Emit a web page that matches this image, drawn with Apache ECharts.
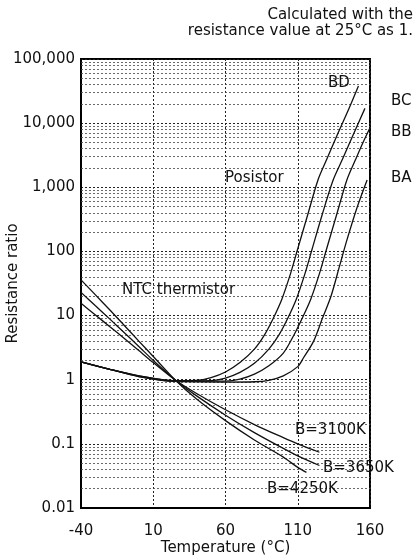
<!DOCTYPE html>
<html>
<head>
<meta charset="utf-8">
<script src="https://cdn.jsdelivr.net/npm/echarts@6/dist/echarts.min.js"></script>
<style>
html,body{margin:0;padding:0;background:#fff;}
#c{width:416px;height:558px;}
</style>
</head>
<body>
<div id="c"></div>
<script>
// ---- data ----
const xTicks = [-40, 10, 60, 110, 160];
const yTicks = [0.01, 0.1, 1, 10, 100, 1000, 10000, 100000];
const minorSteps = [2, 3, 4, 5, 6, 7, 8, 9];

// NTC thermistors
const ntc3100T = [-40, -30, -20, -10, 0, 10, 25, 40, 60, 80, 100, 110, 125];
const ntc3100R = [15.5, 10.2, 6.7, 4.4, 2.85, 1.85, 1, 0.61, 0.34, 0.2, 0.125, 0.1, 0.074];
const ntc3650T = [-40, -30, -20, -10, 0, 10, 25, 40, 60, 80, 100, 110, 125];
const ntc3650R = [23, 14.2, 8.8, 5.4, 3.3, 2.0, 1, 0.56, 0.28, 0.15, 0.085, 0.065, 0.046];
const ntc4250T = [-40, -30, -20, -10, 0, 10, 25, 40, 60, 80, 100, 110, 116];
const ntc4250R = [36, 21, 12.2, 7.0, 4.0, 2.3, 1, 0.5, 0.23, 0.115, 0.062, 0.043, 0.036];

// Posistors
const bdT = [-40, -20, 0, 25, 40, 50, 60, 70, 80, 87, 93, 99, 105, 110, 117, 124, 130, 137, 145, 152];
const bdR = [1.9, 1.45, 1.15, 0.97, 0.98, 1.08, 1.32, 1.85, 3.0, 5.0, 9, 18, 45, 110, 380, 1300, 2700, 6300, 16000, 38000];
const bcT = [-40, -20, 0, 25, 50, 60, 70, 80, 90, 97, 103, 109, 115, 120, 127, 134.5, 141, 148, 156.5];
const bcR = [1.9, 1.45, 1.15, 0.96, 0.97, 1.06, 1.3, 1.8, 3.0, 5.0, 9, 18, 45, 110, 380, 1300, 2750, 6300, 17000];
const bbT = [-40, -20, 0, 25, 60, 70, 80, 90, 100, 107, 113, 119, 125, 130, 137, 144, 150, 155, 160];
const bbR = [1.9, 1.45, 1.12, 0.95, 0.95, 1.02, 1.22, 1.65, 2.6, 4.8, 9, 18, 45, 110, 380, 1300, 2700, 4900, 8500];
const baT = [-40, -20, 0, 25, 60, 80, 90, 100, 110, 114, 121, 127, 133, 139, 144, 151, 158];
const baR = [1.9, 1.45, 1.12, 0.94, 0.92, 0.93, 0.98, 1.15, 1.6, 2.2, 4.0, 9, 20, 60, 150, 480, 1300];

// ---- chart ----
const pairs = (t, r) => t.map((v, i) => [v, r[i]]);
const FONT = '"DejaVu Sans", "Liberation Sans", sans-serif';
const FS = 15;

const minorLines = [];
yTicks.slice(0, -1).forEach(d => minorSteps.forEach(m => minorLines.push({ yAxis: Number((d * m).toPrecision(6)) })));

const curve = (name, t, r) => ({
  name, type: 'line', data: pairs(t, r), showSymbol: false, smooth: 0.3,
  lineStyle: { color: '#111', width: 1.3 }, z: 5, silent: true
});

const label = (text, x, y, align) => ({
  type: 'text', x, y, z: 10, silent: true,
  style: { text, font: FS + 'px ' + FONT, fill: '#111', align: align || 'left', verticalAlign: 'middle' }
});

const chart = echarts.init(document.getElementById('c'), null, { renderer: 'canvas' });
chart.setOption({
  animation: false,
  backgroundColor: '#fff',
  textStyle: { fontFamily: FONT },
  grid: { left: 81, right: 46, top: 59, bottom: 50, show: true, borderColor: '#000', borderWidth: 2,
    backgroundColor: 'transparent', containLabel: false, outerBoundsMode: 'none' },
  xAxis: {
    type: 'value', min: xTicks[0], max: xTicks[xTicks.length - 1], interval: 50,
    axisLine: { show: true, onZero: false, lineStyle: { color: '#000', width: 2 } },
    axisTick: { show: false },
    axisLabel: { color: '#111', fontSize: FS, margin: 16, fontFamily: FONT },
    splitLine: { show: true, lineStyle: { color: '#222', type: [2, 2], width: 1 } },
    name: 'Temperature (°C)', nameLocation: 'middle', nameGap: 40, nameMoveOverlap: false,
    nameTextStyle: { color: '#111', fontSize: FS, fontFamily: FONT, verticalAlign: 'middle', align: 'center' }
  },
  yAxis: {
    type: 'log', logBase: 10, min: yTicks[0], max: yTicks[yTicks.length - 1], interval: 1,
    axisLine: { show: true, onZero: false, lineStyle: { color: '#000', width: 2 } },
    axisTick: { show: false },
    axisLabel: {
      color: '#111', fontSize: FS, margin: 6, fontFamily: FONT,
      formatter: v => { const n = Number(Number(v).toPrecision(6)); return n >= 1000 ? n.toLocaleString('en-US') : String(n); }
    },
    splitLine: { show: true, lineStyle: { color: '#222', type: [2, 2], width: 1 } },
    name: 'Resistance ratio', nameLocation: 'middle', nameGap: 68, nameRotate: 90, nameMoveOverlap: false,
    nameTextStyle: { color: '#111', fontSize: FS, fontFamily: FONT, verticalAlign: 'middle', align: 'center' }
  },
  series: [
    {
      name: 'minor', type: 'line', data: [], silent: true,
      markLine: { silent: true, symbol: 'none', label: { show: false }, animation: false,
        lineStyle: { color: '#444', type: [2, 2], width: 0.8 }, data: minorLines }
    },
    curve('B=3100K', ntc3100T, ntc3100R),
    curve('B=3650K', ntc3650T, ntc3650R),
    curve('B=4250K', ntc4250T, ntc4250R),
    curve('BD', bdT, bdR),
    curve('BC', bcT, bcR),
    curve('BB', bbT, bbR),
    curve('BA', baT, baR)
  ],
  graphic: [
    label('Calculated with the', 413, 15, 'right'),
    label('resistance value at 25°C as 1.', 413, 31, 'right'),
    label('BD', 328, 83),
    label('BC', 391, 101),
    label('BB', 391, 132),
    label('BA', 391, 178),
    label('Posistor', 225, 178),
    label('NTC thermistor', 122, 290),
    label('B=3100K', 295, 430),
    label('B=3650K', 323, 468),
    label('B=4250K', 267, 489)
  ]
});
</script>
</body>
</html>
